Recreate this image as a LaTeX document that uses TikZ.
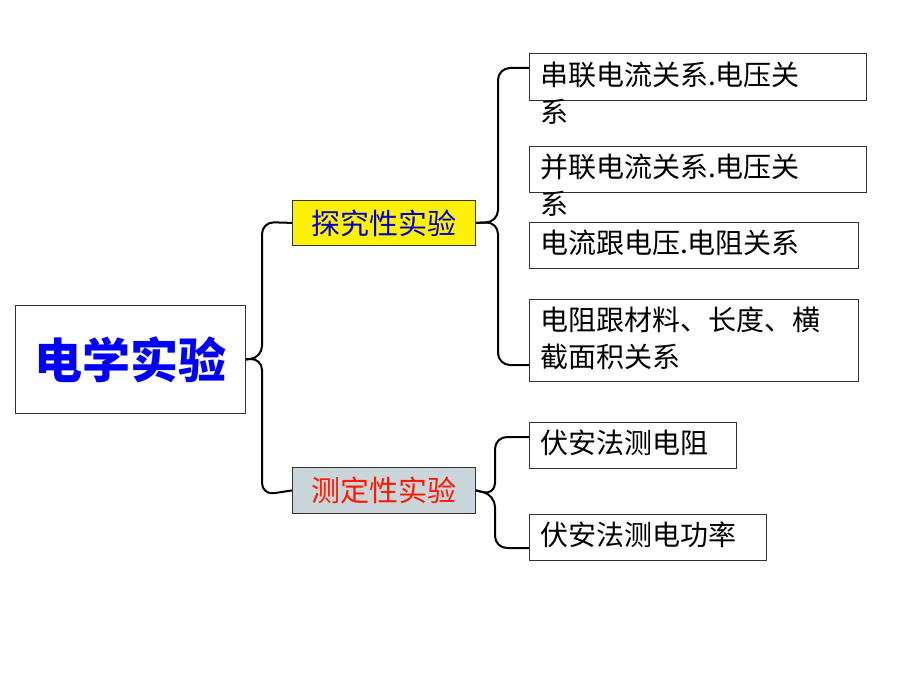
\documentclass[tikz,border=0pt]{standalone}
\usepackage{fontspec}
\newfontfamily\cjk{Noto Sans CJK SC}
\begin{document}
\begin{tikzpicture}[x=1pt,y=-1pt,
  box/.style={draw=black!80,line width=0.8pt,anchor=north west,inner sep=0pt},
  txt/.style={anchor=north west,inner sep=0pt,font=\cjk\fontsize{28}{37}\selectfont,align=left},
  br/.style={line width=2pt,rounded corners=12pt}]
\useasboundingbox (0,0) rectangle (920,690);
\node[box,minimum width=230,minimum height=108] (main) at (15,305) {};
\node[font=\cjk\bfseries\fontsize{48}{48}\selectfont,text=blue] (mt) at (main.center) {电学实验};
\node[box,fill=yellow,minimum width=183,minimum height=45] (tj) at (292,200) {};
\node[font=\cjk\fontsize{29}{29}\selectfont,text=blue!80!black] at (tj.center) {探究性实验};
\node[box,fill=cyan!20!gray!40,minimum width=183,minimum height=46] (cd) at (292,467) {};
\node[font=\cjk\fontsize{29}{29}\selectfont,text=red!80!orange] at (cd.center) {测定性实验};
\node[box,minimum width=337,minimum height=47] (b1) at (529,53) {};
\node[txt] at (540,62) {串联电流关系.电压关\\系};
\node[box,minimum width=337,minimum height=46] (b2) at (529,146) {};
\node[txt] at (540,154) {并联电流关系.电压关\\系};
\node[box,minimum width=329,minimum height=46] (b3) at (529,222) {};
\node[txt] at (540,230) {电流跟电压.电阻关系};
\node[box,minimum width=329,minimum height=82] (b4) at (529,299) {};
\node[txt] at (540,307) {电阻跟材料、长度、横\\截面积关系};
\node[box,minimum width=207,minimum height=46] (b5) at (529,422) {};
\node[txt] at (540,430) {伏安法测电阻};
\node[box,minimum width=237,minimum height=46] (b6) at (529,514) {};
\node[txt] at (540,522) {伏安法测电功率};
% braces
\coordinate (m1) at (262,222); \coordinate (m2) at (262,495);
\draw[br] (main.east) -- (262,358) -- (262,222) -- (tj.west);
\draw[br] (main.east) -- (262,358) -- (262,495) -- (cd.west);
\draw[br] (tj.east) -- (498,222) -- (498,68) -- (b1.west |- 0,68);
\draw[br] (tj.east) -- (498,222) -- (498,365) -- (b4.west |- 0,365);
\draw[br] (cd.east) -- (495,495) -- (495,437) -- (b5.west |- 0,437);
\draw[br] (cd.east) -- (495,495) -- (495,548) -- (b6.west |- 0,548);
\end{tikzpicture}
\end{document}
